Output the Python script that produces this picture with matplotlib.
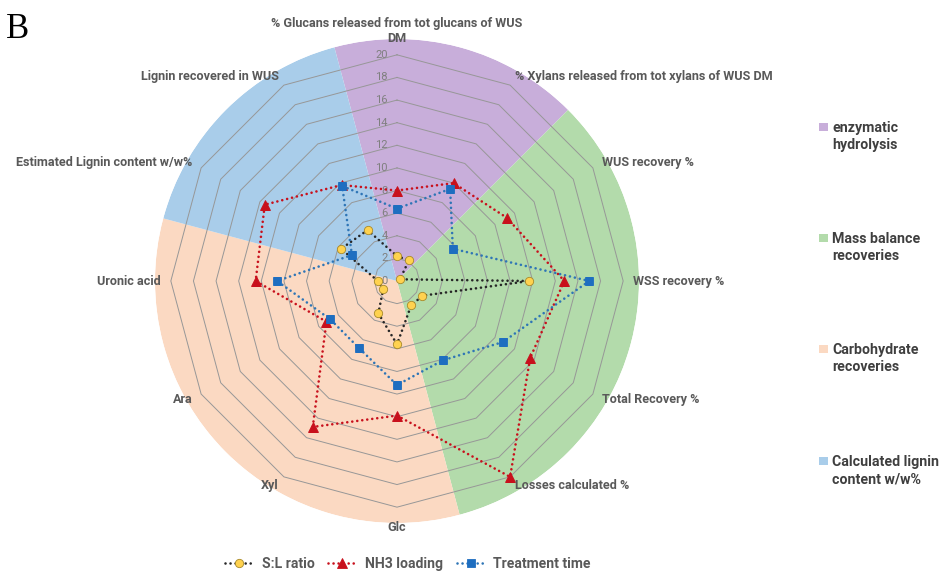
import numpy as np
import matplotlib
matplotlib.use("Agg")
import matplotlib.pyplot as plt
from matplotlib.lines import Line2D
from matplotlib.patches import Rectangle
from matplotlib.transforms import offset_copy

# ---- data -------------------------------------------------------------
categories = [
    "% Glucans released from tot glucans of WUS\nDM",
    "% Xylans released from tot xylans of WUS DM",
    "WUS recovery %",
    "WSS recovery %",
    "Total Recovery %",
    "Losses calculated %",
    "Glc",
    "Xyl",
    "Ara",
    "Uronic acid",
    "Estimated Lignin content w/w%",
    "Lignin recovered in WUS",
]
sl_ratio       = [2.2, 2.1, 0.3, 11.7, 2.6, 2.5, 5.6, 3.3, 1.4, 1.7, 5.7, 5.2]
nh3_loading    = [8.0, 10.0, 11.2, 14.8, 13.6, 20.0, 11.9, 14.9, 7.2, 12.5, 13.5, 9.8]
treatment_time = [6.4, 9.4, 5.7, 17.0, 10.8, 8.1, 9.2, 6.8, 6.8, 10.6, 4.6, 9.7]
series_names = ["S:L ratio", "NH3 loading", "Treatment time"]

group_names = ["enzymatic\nhydrolysis", "Mass balance\nrecoveries",
               "Carbohydrate\nrecoveries", "Calculated lignin\ncontent w/w%"]
group_sizes = [2, 4, 4, 2]          # number of spokes covered by each group
radial_ticks = list(range(0, 21, 2))

# ---- style ------------------------------------------------------------
FONT = ["Roboto", "DejaVu Sans"]
plt.rcParams["font.family"] = FONT
group_colors = ["#C8AEDA", "#B3DBAB", "#FBD9C2", "#A9CDEA"]
grid_color = "#979797"
label_color = "#595959"
series_styles = [
    dict(color="#262626", marker="o", mfc="#FFD24F", mec="#A88A2A", ms=6.0, mew=0.6),
    dict(color="#C8101C", marker="^", mfc="#C8101C", mec="#C8101C", ms=6.5, mew=0.6),
    dict(color="#2E75B6", marker="s", mfc="#1E6EC0", mec="#1E6EC0", ms=6.0, mew=0.6),
]
dot_style = dict(linestyle=(0, (0.01, 1.9)), dash_capstyle="round", lw=1.9)

W, H = 943, 573
fig = plt.figure(figsize=(W / 100, H / 100), dpi=100)

cx, cy, R = 397, 281, 242           # centre and outer radius (pixels)
ax = fig.add_axes([(cx - R) / W, (H - cy - R) / H, 2 * R / W, 2 * R / H],
                  projection="polar")
ax.set_theta_zero_location("N")
ax.set_theta_direction(-1)
rmax = 21.4
ax.set_ylim(0, rmax)
ax.set_axis_off()

n = len(categories)
step = 2 * np.pi / n
theta = np.arange(n) * step

# coloured background sectors, each centred on its group of spokes
start = -step / 2
for size, col in zip(group_sizes, group_colors):
    width = size * step
    ax.bar(start + width / 2, rmax, width=width, bottom=0, color=col,
           edgecolor="none", align="center", zorder=0)
    start += width

# polygonal grid rings
tc = np.append(theta, theta[0])
for r in radial_ticks[1:]:
    ax.plot(tc, [r] * (n + 1), color=grid_color, lw=0.7, zorder=1)

# radial tick labels along the top spoke
tick_tr = offset_copy(ax.transData, fig=fig, x=-9, y=0, units="dots")
for r in radial_ticks:
    ax.text(0, r, str(r), transform=tick_tr, ha="right", va="center",
            fontsize=8, color="#7F7F7F", zorder=2)

# category labels
for i, (t, lab) in enumerate(zip(theta, categories)):
    s, c = np.sin(t), np.cos(t)
    if abs(s) < 1e-6:
        ha = "center"
        va = "bottom" if c > 0 else "top"
        rr = 20.9 if c > 0 else 21.2
    else:
        ha = "left" if s > 0 else "right"
        va = "center"
        rr = 20.9
    ax.text(t, rr, lab, ha=ha, va=va, multialignment="center",
            fontsize=9.1, fontweight="bold", color=label_color, zorder=5)

# data series
handles = []
for vals, name, st in zip([sl_ratio, nh3_loading, treatment_time],
                          series_names, series_styles):
    v = np.append(vals, vals[0])
    ax.plot(tc, v, color=st["color"], zorder=3, **dot_style)
    ax.plot(theta, vals, linestyle="none", marker=st["marker"], ms=st["ms"],
            mfc=st["mfc"], mec=st["mec"], mew=st["mew"], zorder=4)
    handles.append(Line2D([], [], color=st["color"], marker=st["marker"],
                          ms=st["ms"], mfc=st["mfc"], mec=st["mec"],
                          mew=st["mew"], **dot_style))

fig.legend(handles, series_names, loc="center",
           bbox_to_anchor=(408 / W, 1 - 564 / H), ncol=3, frameon=False,
           prop=dict(family=FONT, weight="bold", size=10.1),
           labelcolor=label_color, handlelength=2.0, handletextpad=0.6,
           columnspacing=1.0)

# group key on the right
key_y = [136.5, 247.7, 358.5, 470.5]
for y, name, col in zip(key_y, group_names, group_colors):
    fig.add_artist(Rectangle((819 / W, 1 - (y - 5.5) / H), 9 / W, 8 / H,
                             transform=fig.transFigure, facecolor=col,
                             edgecolor="none"))
    fig.text(832 / W, 1 - y / H, name, ha="left", va="center",
             fontsize=10.2, fontweight="bold", color="#3F3F3F", linespacing=1.3)

# panel letter
fig.text(6 / W, 1 - 38 / H, "B", ha="left", va="baseline",
         fontsize=25, family=["Liberation Serif", "DejaVu Serif"], color="black")

fig.savefig("out.png", dpi=100)
